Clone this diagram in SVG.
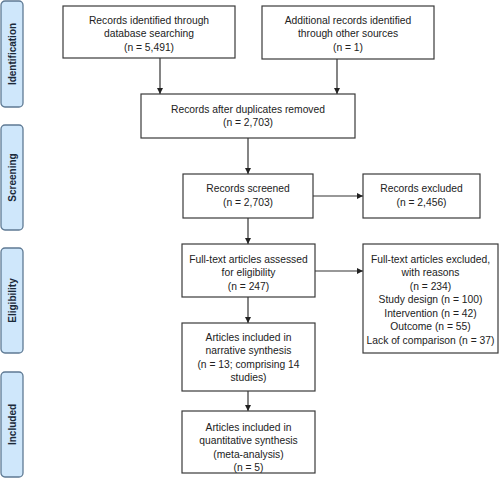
<svg xmlns="http://www.w3.org/2000/svg" width="500" height="483" viewBox="0 0 500 483">
<defs>
<marker id="ah" markerWidth="6" markerHeight="6" refX="6" refY="3" orient="auto" markerUnits="userSpaceOnUse">
<path d="M0,0 L6,3 L0,6 Z" fill="#222"/>
</marker>
<style>
.box{fill:#fff;stroke:#3a3a3a;stroke-width:1.2}
.side{fill:#cfe7fb;stroke:#5f7a94;stroke-width:1.3}
.t{font-family:"Liberation Sans",Arial,sans-serif;font-size:10.3px;fill:#222;text-anchor:middle}
.s{font-family:"Liberation Sans",Arial,sans-serif;font-size:10px;font-weight:bold;fill:#1b2a3a;text-anchor:middle}
.c{stroke:#333;stroke-width:1.2;fill:none;marker-end:url(#ah)}
</style>
</defs>
<rect width="500" height="483" fill="#fff"/>
<g id="side-identification"><rect class="side" x="1" y="1" width="22" height="106" rx="4"/><text class="s" transform="translate(15.5,54) rotate(-90)">Identification</text></g>
<g id="side-screening"><rect class="side" x="1" y="125" width="22" height="105" rx="4"/><text class="s" transform="translate(15.5,177.5) rotate(-90)">Screening</text></g>
<g id="side-eligibility"><rect class="side" x="1" y="248" width="22" height="105" rx="4"/><text class="s" transform="translate(15.5,300.5) rotate(-90)">Eligibility</text></g>
<g id="side-included"><rect class="side" x="1" y="372" width="22" height="105" rx="4"/><text class="s" transform="translate(15.5,424.5) rotate(-90)">Included</text></g>

<g id="connectors">
<line class="c" x1="160" y1="58" x2="160" y2="94"/>
<line class="c" x1="337" y1="59" x2="337" y2="94"/>
<line class="c" x1="248" y1="138" x2="248" y2="174"/>
<line class="c" x1="313" y1="196" x2="363" y2="196"/>
<line class="c" x1="248" y1="218" x2="248" y2="244"/>
<line class="c" x1="315" y1="271" x2="363" y2="271"/>
<line class="c" x1="248" y1="297" x2="248" y2="323"/>
<line class="c" x1="248" y1="391" x2="248" y2="411"/>
</g>

<g id="n-database"><rect class="box" x="63" y="6" width="172" height="52"/>
<text class="t" x="149" y="23.5">Records identified through</text>
<text class="t" x="149" y="37">database searching</text>
<text class="t" x="149" y="50.5">(n = 5,491)</text></g>

<g id="n-other"><rect class="box" x="262" y="6" width="172" height="53"/>
<text class="t" x="348" y="23.5">Additional records identified</text>
<text class="t" x="348" y="37">through other sources</text>
<text class="t" x="348" y="50.5">(n = 1)</text></g>

<g id="n-duplicates"><rect class="box" x="141" y="94" width="214" height="44"/>
<text class="t" x="248" y="112.5">Records after duplicates removed</text>
<text class="t" x="248" y="126">(n = 2,703)</text></g>

<g id="n-screened"><rect class="box" x="183" y="174" width="130" height="44"/>
<text class="t" x="248" y="192">Records screened</text>
<text class="t" x="248" y="205.5">(n = 2,703)</text></g>

<g id="n-excluded"><rect class="box" x="363" y="174" width="117" height="44"/>
<text class="t" x="421.5" y="192">Records excluded</text>
<text class="t" x="421.5" y="205.5">(n = 2,456)</text></g>

<g id="n-fulltext"><rect class="box" x="182" y="244" width="133" height="53"/>
<text class="t" x="248.5" y="262.5">Full-text articles assessed</text>
<text class="t" x="248.5" y="276">for eligibility</text>
<text class="t" x="248.5" y="289.5">(n = 247)</text></g>

<g id="n-fulltext-excluded"><rect class="box" x="363" y="244" width="135" height="109"/>
<text class="t" x="430.5" y="262.5">Full-text articles excluded,</text>
<text class="t" x="430.5" y="276">with reasons</text>
<text class="t" x="430.5" y="289.5">(n = 234)</text>
<text class="t" x="430.5" y="303">Study design (n = 100)</text>
<text class="t" x="430.5" y="316.5">Intervention (n = 42)</text>
<text class="t" x="430.5" y="330">Outcome (n = 55)</text>
<text class="t" x="430.5" y="343.5">Lack of comparison (n = 37)</text></g>

<g id="n-narrative"><rect class="box" x="182" y="323" width="133" height="68"/>
<text class="t" x="248.5" y="340.5">Articles included in</text>
<text class="t" x="248.5" y="354">narrative synthesis</text>
<text class="t" x="248.5" y="367.5">(n = 13; comprising 14</text>
<text class="t" x="248.5" y="381">studies)</text></g>

<g id="n-quantitative"><rect class="box" x="182" y="411" width="133" height="62"/>
<text class="t" x="248.5" y="430.5">Articles included in</text>
<text class="t" x="248.5" y="444">quantitative synthesis</text>
<text class="t" x="248.5" y="457.5">(meta-analysis)</text>
<text class="t" x="248.5" y="471">(n = 5)</text></g>
</svg>
